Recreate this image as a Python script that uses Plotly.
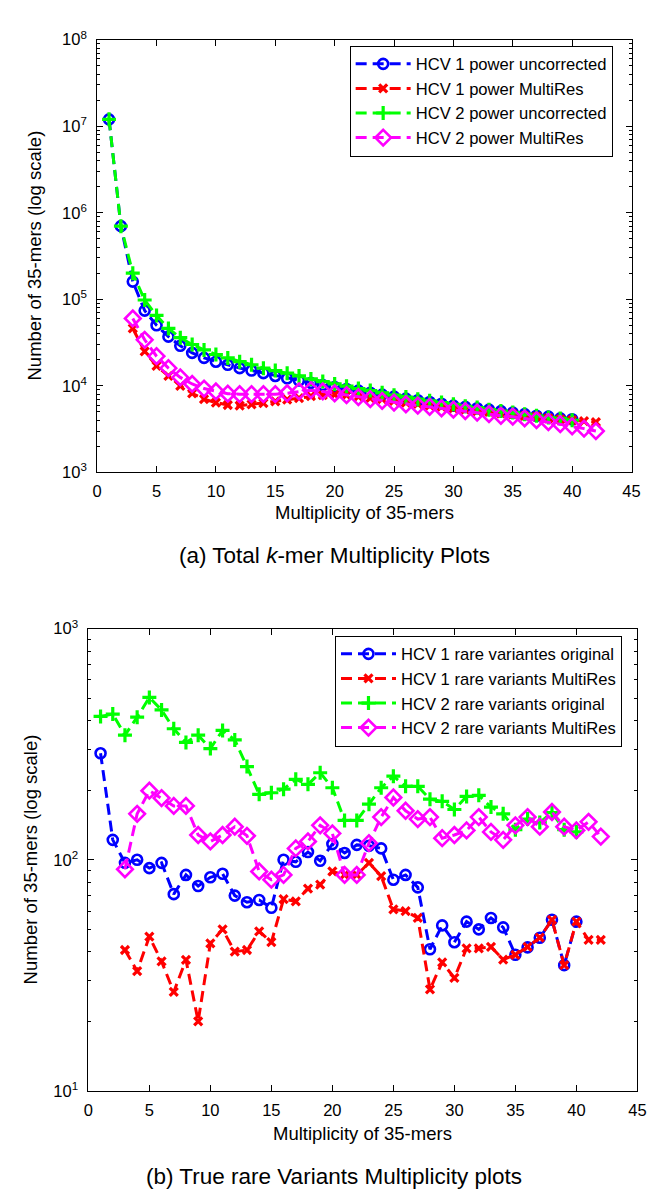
import plotly.graph_objects as go

# ---------------- data: (a) total k-mer multiplicity ----------------
x_a_uncorr = list(range(1, 41))
x_a_multires = list(range(3, 43))
a_hcv1_uncorrected = [1.2e7, 7.0e5, 1.6e5, 7.4e4, 5.0e4, 3.7e4, 2.9e4, 2.4e4, 2.1e4, 1.9e4,
                      1.75e4, 1.6e4, 1.5e4, 1.4e4, 1.3e4, 1.22e4, 1.15e4, 1.08e4, 1.02e4, 9.7e3,
                      9.2e3, 8.8e3, 8.3e3, 7.9e3, 7.5e3, 7.1e3, 6.8e3, 6.5e3, 6.2e3, 5.9e3,
                      5.7e3, 5.5e3, 5.3e3, 5.1e3, 4.9e3, 4.7e3, 4.5e3, 4.4e3, 4.2e3, 4.1e3]
a_hcv2_uncorrected = [1.2e7, 7.0e5, 2.0e5, 9.8e4, 6.5e4, 4.6e4, 3.6e4, 3.0e4, 2.6e4, 2.3e4,
                      2.1e4, 1.9e4, 1.75e4, 1.6e4, 1.5e4, 1.4e4, 1.3e4, 1.2e4, 1.12e4, 1.05e4,
                      9.9e3, 9.3e3, 8.8e3, 8.3e3, 7.8e3, 7.4e3, 7.0e3, 6.7e3, 6.4e3, 6.1e3,
                      5.8e3, 5.6e3, 5.3e3, 5.1e3, 4.9e3, 4.7e3, 4.5e3, 4.3e3, 4.2e3, 4.0e3]
a_hcv1_multires = [4.6e4, 2.5e4, 1.7e4, 1.3e4, 1.0e4, 8.2e3, 7.0e3, 6.4e3, 6.0e3, 5.9e3,
                   6.1e3, 6.3e3, 6.6e3, 6.9e3, 7.2e3, 7.6e3, 7.8e3, 7.9e3, 7.8e3, 7.5e3,
                   7.2e3, 7.0e3, 6.7e3, 6.4e3, 6.2e3, 5.9e3, 5.7e3, 5.5e3, 5.3e3, 5.1e3,
                   5.0e3, 4.8e3, 4.7e3, 4.5e3, 4.4e3, 4.2e3, 4.1e3, 4.0e3, 3.9e3, 3.8e3]
a_hcv2_multires = [6.0e4, 3.4e4, 2.2e4, 1.6e4, 1.25e4, 1.05e4, 9.3e3, 8.6e3, 8.1e3, 8.0e3,
                   8.0e3, 8.0e3, 8.0e3, 8.2e3, 8.6e3, 8.9e3, 8.6e3, 8.2e3, 7.8e3, 7.4e3,
                   7.0e3, 6.7e3, 6.4e3, 6.1e3, 5.9e3, 5.7e3, 5.5e3, 5.3e3, 5.1e3, 4.9e3,
                   4.7e3, 4.5e3, 4.4e3, 4.2e3, 4.0e3, 3.8e3, 3.6e3, 3.4e3, 3.2e3, 3.0e3]

# ---------------- data: (b) true rare variants ----------------
x_b_hcv1_orig = list(range(1, 41))
x_b_hcv1_mr = list(range(3, 43))
x_b_hcv2_orig = list(range(1, 41))
x_b_hcv2_mr = list(range(3, 43))
b_hcv1_original = [289, 122, 97, 100, 92, 97, 71, 86, 77, 84,
                   87, 70, 65.5, 67, 62, 100, 98, 108, 99, 117,
                   107, 116, 115, 112, 82, 86, 76, 41, 52, 44,
                   54, 50, 56, 51, 38.8, 41.8, 46, 55, 35, 54]
b_hcv1_multires = [40.7, 33, 46.5, 36.3, 26.8, 36.9, 20.0, 43.5, 50, 40,
                   40.7, 49, 44, 67.6, 66, 75, 78, 89, 86, 86,
                   97, 85, 61, 60, 56, 27.5, 36, 30.8, 41.4, 41.4,
                   42, 37, 38.8, 42, 46, 55, 35, 54, 45, 45]
b_hcv2_original = [417, 427, 346, 414, 504, 445, 369, 322, 346, 303,
                   363, 330, 253, 192, 195, 202, 223, 212, 238, 205,
                   148, 148, 174, 205, 230, 208, 208, 183, 179, 165,
                   188, 190, 169, 158, 135, 150, 145, 160, 135, 132]
b_hcv2_multires = [91, 158, 199, 185, 171, 171, 128, 120, 128, 139,
                   127, 89, 82, 86, 112, 120, 141, 130, 86, 86,
                   118, 153, 186, 163, 150, 153, 124, 128, 134, 153,
                   132, 122, 141, 153, 139, 161, 139, 134, 146, 126]

x_ticks = [0, 5, 10, 15, 20, 25, 30, 35, 40, 45]
a_decades = [3, 4, 5, 6, 7, 8]
b_decades = [1, 2, 3]

x_title = "Multiplicity of 35-mers"
y_title = "Number of 35-mers (log scale)"
caption_a = "(a) Total <i>k</i>-mer Multiplicity Plots"
caption_b = "(b) True rare Variants Multiplicity plots"

BLUE, RED, GREEN, MAGENTA = "#0000FF", "#FF0000", "#00FF00", "#FF00FF"
FONT = "Liberation Sans, Arial, Helvetica, sans-serif"
DASH = "11px,6px"
W, H = 656, 1203


def marker(sym, color):
    if sym == "circle":
        return dict(symbol="circle-open", size=10, color=color, line=dict(width=2.6, color=color))
    if sym == "x":
        return dict(symbol="x-thin", size=8, color=color, line=dict(width=3.2, color=color))
    if sym == "cross":
        return dict(symbol="cross-thin", size=10, color=color, line=dict(width=3.2, color=color))
    return dict(symbol="diamond-open", size=12, color=color, line=dict(width=2.6, color=color))


fig = go.Figure()

series_a = [
    ("HCV 1 power uncorrected", x_a_uncorr, a_hcv1_uncorrected, BLUE, "circle"),
    ("HCV 1 power MultiRes", x_a_multires, a_hcv1_multires, RED, "x"),
    ("HCV 2 power uncorrected", x_a_uncorr, a_hcv2_uncorrected, GREEN, "cross"),
    ("HCV 2 power MultiRes", x_a_multires, a_hcv2_multires, MAGENTA, "diamond"),
]
for name, xs, ys, col, sym in series_a:
    fig.add_trace(go.Scatter(x=xs, y=ys, name=name, mode="lines+markers",
                             line=dict(color=col, width=3, dash=DASH),
                             marker=marker(sym, col), xaxis="x", yaxis="y", legend="legend"))

series_b = [
    ("HCV 1 rare variantes original", x_b_hcv1_orig, b_hcv1_original, BLUE, "circle"),
    ("HCV 1 rare variants MultiRes", x_b_hcv1_mr, b_hcv1_multires, RED, "x"),
    ("HCV 2 rare variants original", x_b_hcv2_orig, b_hcv2_original, GREEN, "cross"),
    ("HCV 2 rare variants MultiRes", x_b_hcv2_mr, b_hcv2_multires, MAGENTA, "diamond"),
]
for name, xs, ys, col, sym in series_b:
    fig.add_trace(go.Scatter(x=xs, y=ys, name=name, mode="lines+markers",
                             line=dict(color=col, width=3, dash=DASH),
                             marker=marker(sym, col), xaxis="x2", yaxis="y2", legend="legend2"))


def minor_vals(decs):
    vals = []
    for d in decs[:-1]:
        for m in range(2, 10):
            vals.append(m * 10 ** d)
    return vals


axis_common = dict(showline=True, linecolor="black", linewidth=1, mirror="ticks",
                   ticks="inside", ticklen=6, tickwidth=1, tickcolor="black",
                   showgrid=False, zeroline=False,
                   tickfont=dict(family=FONT, size=16.5, color="black"))

xa = dict(axis_common, range=[0, 45], tickvals=x_ticks, ticklabelstandoff=4)
ya = dict(axis_common, type="log", ticklabelstandoff=6)

fig.update_layout(
    width=W, height=H, margin=dict(l=0, r=0, t=0, b=0),
    plot_bgcolor="white", paper_bgcolor="white",
    xaxis=dict(xa, domain=[86 / W, 632 / W], anchor="y"),
    yaxis=dict(ya, range=[3, 8], domain=[1 - 461 / H, 1 - 21 / H], anchor="x",
               tickvals=[10 ** d for d in a_decades],
               ticktext=["10<sup>%d</sup>" % d for d in a_decades],
               minor=dict(tickvals=minor_vals(a_decades), ticks="inside", ticklen=3, tickcolor="black")),
    xaxis2=dict(xa, domain=[77 / W, 638 / W], anchor="y2"),
    yaxis2=dict(ya, range=[1, 3], domain=[1 - 1090 / H, 1 - 620 / H], anchor="x2",
                tickvals=[10 ** d for d in b_decades],
                ticktext=["10<sup>%d</sup>" % d for d in b_decades],
                minor=dict(tickvals=minor_vals(b_decades), ticks="inside", ticklen=3, tickcolor="black")),
    legend=dict(x=344 / W, y=1 - 27 / H, xanchor="left", yanchor="top",
                bgcolor="white", bordercolor="black", borderwidth=1,
                font=dict(family=FONT, size=16.6, color="black"), itemwidth=55,
                tracegroupgap=0),
    legend2=dict(x=329 / W, y=1 - 627 / H, xanchor="left", yanchor="top",
                 bgcolor="white", bordercolor="black", borderwidth=1,
                 font=dict(family=FONT, size=16.6, color="black"), itemwidth=55,
                 tracegroupgap=0),
)


def ann(text, x, y, size, angle=0):
    return dict(text=text, x=x / W, y=1 - y / H, xref="paper", yref="paper", showarrow=False,
                xanchor="center", yanchor="middle", textangle=angle,
                font=dict(family=FONT, size=size, color="black"))


fig.update_layout(annotations=[
    ann(x_title, (86 + 632) / 2, 502, 18.5),
    ann(x_title, (77 + 638) / 2, 1133, 18.5),
    ann(y_title, 22, (21 + 461) / 2, 18.5, -90),
    ann(y_title, 18, (620 + 1090) / 2, 18.5, -90),
    ann(caption_a, 328, 546, 22.5),
    ann(caption_b, 328, 1177, 22.5),
])

fig.write_html("out.html")
